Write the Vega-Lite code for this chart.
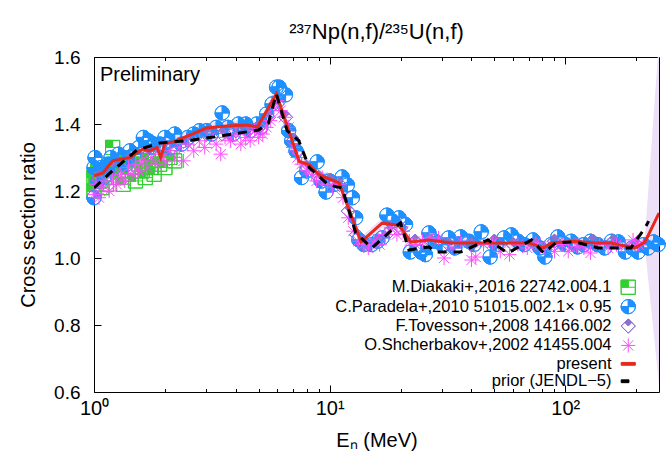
{
  "$schema": "https://vega.github.io/schema/vega-lite/v6.json",
  "width": 565,
  "height": 335,
  "autosize": {"type": "none"},
  "padding": {"left": 94, "top": 57, "right": 9, "bottom": 65},
  "background": "white",
  "title": {"text": "²³⁷Np(n,f)/²³⁵U(n,f)", "fontSize": 22, "font": "Liberation Sans", "fontWeight": "normal", "anchor": "middle", "baseline": "alphabetic", "offset": -13, "color": "black"},
  "datasets": {
    "band": [
      {"E": 1.0, "lo": 1.23, "hi": 1.26}, {"E": 1.09, "lo": 1.239, "hi": 1.269}, {"E": 1.2, "lo": 1.275, "hi": 1.305},
      {"E": 1.42, "lo": 1.285, "hi": 1.315}, {"E": 1.61, "lo": 1.31, "hi": 1.34}, {"E": 1.72, "lo": 1.305, "hi": 1.335},
      {"E": 1.85, "lo": 1.315, "hi": 1.345}, {"E": 1.92, "lo": 1.285, "hi": 1.315}, {"E": 2.0, "lo": 1.328, "hi": 1.358},
      {"E": 2.16, "lo": 1.331, "hi": 1.361}, {"E": 2.55, "lo": 1.352, "hi": 1.382}, {"E": 3.0, "lo": 1.373, "hi": 1.403},
      {"E": 3.65, "lo": 1.379, "hi": 1.409}, {"E": 4.43, "lo": 1.382, "hi": 1.412}, {"E": 4.94, "lo": 1.376, "hi": 1.406},
      {"E": 5.94, "lo": 1.475, "hi": 1.505}, {"E": 7.43, "lo": 1.273, "hi": 1.303}, {"E": 8.2, "lo": 1.263, "hi": 1.293},
      {"E": 9.03, "lo": 1.233, "hi": 1.263}, {"E": 10.97, "lo": 1.209, "hi": 1.239}, {"E": 13.6, "lo": 1.033, "hi": 1.063},
      {"E": 16.7, "lo": 1.089, "hi": 1.119}, {"E": 19.7, "lo": 1.083, "hi": 1.113}, {"E": 22.1, "lo": 1.033, "hi": 1.063},
      {"E": 26.4, "lo": 1.039, "hi": 1.069}, {"E": 33, "lo": 1.03, "hi": 1.06}, {"E": 46, "lo": 1.03, "hi": 1.06},
      {"E": 70, "lo": 1.03, "hi": 1.06}, {"E": 81, "lo": 1.015, "hi": 1.045}, {"E": 87, "lo": 1.03, "hi": 1.06},
      {"E": 110, "lo": 1.035, "hi": 1.065}, {"E": 134, "lo": 1.03, "hi": 1.06}, {"E": 156, "lo": 1.03, "hi": 1.06},
      {"E": 198, "lo": 1.015, "hi": 1.045}, {"E": 218, "lo": 1.03, "hi": 1.066}, {"E": 250, "lo": 0.62, "hi": 1.65}
    ],
    "present": [
      {"E": 1.0, "r": 1.245}, {"E": 1.09, "r": 1.254}, {"E": 1.2, "r": 1.29}, {"E": 1.42, "r": 1.3}, {"E": 1.61, "r": 1.325},
      {"E": 1.72, "r": 1.32}, {"E": 1.85, "r": 1.33}, {"E": 1.92, "r": 1.3}, {"E": 2.0, "r": 1.343}, {"E": 2.16, "r": 1.346},
      {"E": 2.55, "r": 1.367}, {"E": 3.0, "r": 1.388}, {"E": 3.65, "r": 1.394}, {"E": 4.43, "r": 1.397}, {"E": 4.94, "r": 1.391},
      {"E": 5.94, "r": 1.49}, {"E": 7.43, "r": 1.288}, {"E": 8.2, "r": 1.278}, {"E": 9.03, "r": 1.248}, {"E": 10.97, "r": 1.224},
      {"E": 13.6, "r": 1.048}, {"E": 16.7, "r": 1.104}, {"E": 19.7, "r": 1.098}, {"E": 22.1, "r": 1.048}, {"E": 26.4, "r": 1.054},
      {"E": 33, "r": 1.045}, {"E": 46, "r": 1.045}, {"E": 70, "r": 1.045}, {"E": 81, "r": 1.03}, {"E": 87, "r": 1.045},
      {"E": 110, "r": 1.05}, {"E": 134, "r": 1.045}, {"E": 156, "r": 1.045}, {"E": 198, "r": 1.03}, {"E": 218, "r": 1.048},
      {"E": 250, "r": 1.134}
    ],
    "prior": [
      {"E": 1.0, "r": 1.209}, {"E": 1.17, "r": 1.254}, {"E": 1.52, "r": 1.322}, {"E": 1.9, "r": 1.343}, {"E": 2.62, "r": 1.352},
      {"E": 3.65, "r": 1.367}, {"E": 5.0, "r": 1.382}, {"E": 5.5, "r": 1.403}, {"E": 5.94, "r": 1.49}, {"E": 6.6, "r": 1.38},
      {"E": 7.4, "r": 1.35}, {"E": 8.2, "r": 1.27}, {"E": 9.9, "r": 1.218}, {"E": 11.3, "r": 1.209}, {"E": 12.9, "r": 1.075},
      {"E": 15.1, "r": 1.03}, {"E": 17.8, "r": 1.075}, {"E": 20, "r": 1.105}, {"E": 21.7, "r": 1.024}, {"E": 26.4, "r": 1.033},
      {"E": 28, "r": 1.018}, {"E": 36, "r": 1.018}, {"E": 47, "r": 1.054}, {"E": 57, "r": 1.015}, {"E": 72, "r": 1.054},
      {"E": 81, "r": 1.015}, {"E": 91, "r": 1.045}, {"E": 110, "r": 1.048}, {"E": 138, "r": 1.03}, {"E": 190, "r": 1.03},
      {"E": 218, "r": 1.09}, {"E": 226, "r": 1.11}
    ],
    "exp": [
      {"s": "a", "E": 1.0, "r": 1.2}, {"s": "a", "E": 1.0, "r": 1.24}, {"s": "a", "E": 1.02, "r": 1.22}, {"s": "a", "E": 1.04, "r": 1.26},
      {"s": "a", "E": 1.06, "r": 1.23}, {"s": "a", "E": 1.08, "r": 1.21}, {"s": "a", "E": 1.1, "r": 1.25}, {"s": "a", "E": 1.13, "r": 1.22},
      {"s": "a", "E": 1.17, "r": 1.27}, {"s": "a", "E": 1.2, "r": 1.33}, {"s": "a", "E": 1.23, "r": 1.28}, {"s": "a", "E": 1.27, "r": 1.24},
      {"s": "a", "E": 1.3, "r": 1.26}, {"s": "a", "E": 1.33, "r": 1.22}, {"s": "a", "E": 1.37, "r": 1.29}, {"s": "a", "E": 1.4, "r": 1.25},
      {"s": "a", "E": 1.45, "r": 1.27}, {"s": "a", "E": 1.5, "r": 1.23}, {"s": "a", "E": 1.55, "r": 1.28}, {"s": "a", "E": 1.6, "r": 1.26},
      {"s": "a", "E": 1.65, "r": 1.24}, {"s": "a", "E": 1.7, "r": 1.29}, {"s": "a", "E": 1.75, "r": 1.27}, {"s": "a", "E": 1.8, "r": 1.25},
      {"s": "a", "E": 1.9, "r": 1.28}, {"s": "a", "E": 2.0, "r": 1.27}, {"s": "a", "E": 2.1, "r": 1.3}, {"s": "a", "E": 2.2, "r": 1.29},

      {"s": "b", "E": 1.0, "r": 1.18}, {"s": "b", "E": 1.0, "r": 1.27}, {"s": "b", "E": 1.01, "r": 1.3}, {"s": "b", "E": 1.04, "r": 1.23},
      {"s": "b", "E": 1.07, "r": 1.27}, {"s": "b", "E": 1.1, "r": 1.24}, {"s": "b", "E": 1.14, "r": 1.28}, {"s": "b", "E": 1.18, "r": 1.3},
      {"s": "b", "E": 1.22, "r": 1.27}, {"s": "b", "E": 1.27, "r": 1.31}, {"s": "b", "E": 1.32, "r": 1.3}, {"s": "b", "E": 1.37, "r": 1.28},
      {"s": "b", "E": 1.42, "r": 1.32}, {"s": "b", "E": 1.48, "r": 1.31}, {"s": "b", "E": 1.55, "r": 1.33}, {"s": "b", "E": 1.62, "r": 1.36},
      {"s": "b", "E": 1.7, "r": 1.35}, {"s": "b", "E": 1.75, "r": 1.33}, {"s": "b", "E": 1.8, "r": 1.34}, {"s": "b", "E": 1.9, "r": 1.34},
      {"s": "b", "E": 2.0, "r": 1.36}, {"s": "b", "E": 2.1, "r": 1.33}, {"s": "b", "E": 2.2, "r": 1.37}, {"s": "b", "E": 2.35, "r": 1.34},
      {"s": "b", "E": 2.5, "r": 1.36}, {"s": "b", "E": 2.65, "r": 1.37}, {"s": "b", "E": 2.8, "r": 1.38}, {"s": "b", "E": 3.0, "r": 1.38},
      {"s": "b", "E": 3.15, "r": 1.37}, {"s": "b", "E": 3.3, "r": 1.39}, {"s": "b", "E": 3.5, "r": 1.433}, {"s": "b", "E": 3.7, "r": 1.39},
      {"s": "b", "E": 3.9, "r": 1.37}, {"s": "b", "E": 4.1, "r": 1.4}, {"s": "b", "E": 4.4, "r": 1.4}, {"s": "b", "E": 4.6, "r": 1.38},
      {"s": "b", "E": 4.9, "r": 1.4}, {"s": "b", "E": 5.1, "r": 1.39}, {"s": "b", "E": 5.4, "r": 1.43}, {"s": "b", "E": 5.7, "r": 1.46},
      {"s": "b", "E": 5.95, "r": 1.51}, {"s": "b", "E": 6.1, "r": 1.51}, {"s": "b", "E": 6.5, "r": 1.487}, {"s": "b", "E": 6.7, "r": 1.38},
      {"s": "b", "E": 6.9, "r": 1.35}, {"s": "b", "E": 7.2, "r": 1.32}, {"s": "b", "E": 7.6, "r": 1.24}, {"s": "b", "E": 8.0, "r": 1.26},
      {"s": "b", "E": 8.85, "r": 1.287}, {"s": "b", "E": 9.2, "r": 1.23}, {"s": "b", "E": 9.66, "r": 1.197}, {"s": "b", "E": 10.0, "r": 1.23},
      {"s": "b", "E": 10.5, "r": 1.22}, {"s": "b", "E": 11.3, "r": 1.242}, {"s": "b", "E": 11.9, "r": 1.218}, {"s": "b", "E": 12.5, "r": 1.18},
      {"s": "b", "E": 12.9, "r": 1.12}, {"s": "b", "E": 13.3, "r": 1.054}, {"s": "b", "E": 14.0, "r": 1.04}, {"s": "b", "E": 15.1, "r": 1.04},
      {"s": "b", "E": 16.0, "r": 1.05}, {"s": "b", "E": 16.7, "r": 1.06}, {"s": "b", "E": 17.5, "r": 1.128}, {"s": "b", "E": 18.5, "r": 1.11},
      {"s": "b", "E": 19.7, "r": 1.12}, {"s": "b", "E": 21.0, "r": 1.1}, {"s": "b", "E": 22.0, "r": 1.018}, {"s": "b", "E": 24.4, "r": 1.018},
      {"s": "b", "E": 25.5, "r": 1.01}, {"s": "b", "E": 26.4, "r": 1.075}, {"s": "b", "E": 28, "r": 1.05}, {"s": "b", "E": 30, "r": 1.04},
      {"s": "b", "E": 32, "r": 1.06}, {"s": "b", "E": 34, "r": 1.03}, {"s": "b", "E": 36, "r": 1.063}, {"s": "b", "E": 39, "r": 1.05},
      {"s": "b", "E": 41, "r": 1.04}, {"s": "b", "E": 44, "r": 1.078}, {"s": "b", "E": 48, "r": 1.003}, {"s": "b", "E": 51, "r": 1.04},
      {"s": "b", "E": 55, "r": 1.06}, {"s": "b", "E": 59, "r": 1.069}, {"s": "b", "E": 63, "r": 1.05}, {"s": "b", "E": 67, "r": 1.04},
      {"s": "b", "E": 73, "r": 1.054}, {"s": "b", "E": 78, "r": 1.03}, {"s": "b", "E": 82, "r": 1.003}, {"s": "b", "E": 87, "r": 1.04},
      {"s": "b", "E": 93, "r": 1.063}, {"s": "b", "E": 100, "r": 1.04}, {"s": "b", "E": 106, "r": 1.05}, {"s": "b", "E": 113, "r": 1.033},
      {"s": "b", "E": 120, "r": 1.04}, {"s": "b", "E": 128, "r": 1.05}, {"s": "b", "E": 137, "r": 1.04}, {"s": "b", "E": 147, "r": 1.03},
      {"s": "b", "E": 157, "r": 1.05}, {"s": "b", "E": 168, "r": 1.048}, {"s": "b", "E": 180, "r": 1.018}, {"s": "b", "E": 192, "r": 1.03},
      {"s": "b", "E": 204, "r": 1.018}, {"s": "b", "E": 215, "r": 1.04}, {"s": "b", "E": 225, "r": 1.03}, {"s": "b", "E": 237, "r": 1.048},
      {"s": "b", "E": 248, "r": 1.04},

      {"s": "c", "E": 1.05, "r": 1.24}, {"s": "c", "E": 1.2, "r": 1.27}, {"s": "c", "E": 1.4, "r": 1.29}, {"s": "c", "E": 1.7, "r": 1.31},
      {"s": "c", "E": 2.0, "r": 1.33}, {"s": "c", "E": 2.5, "r": 1.35}, {"s": "c", "E": 3.0, "r": 1.37}, {"s": "c", "E": 3.5, "r": 1.37},
      {"s": "c", "E": 4.0, "r": 1.38}, {"s": "c", "E": 4.5, "r": 1.38}, {"s": "c", "E": 5.0, "r": 1.39}, {"s": "c", "E": 5.5, "r": 1.42},
      {"s": "c", "E": 6.0, "r": 1.46}, {"s": "c", "E": 6.5, "r": 1.42}, {"s": "c", "E": 7.0, "r": 1.35}, {"s": "c", "E": 8.0, "r": 1.27},
      {"s": "c", "E": 9.0, "r": 1.24}, {"s": "c", "E": 10, "r": 1.23}, {"s": "c", "E": 11, "r": 1.22}, {"s": "c", "E": 12, "r": 1.14},
      {"s": "c", "E": 13, "r": 1.07}, {"s": "c", "E": 14, "r": 1.04}, {"s": "c", "E": 16, "r": 1.05}, {"s": "c", "E": 18, "r": 1.08},
      {"s": "c", "E": 20, "r": 1.09}, {"s": "c", "E": 23, "r": 1.05}, {"s": "c", "E": 27, "r": 1.05}, {"s": "c", "E": 32, "r": 1.04},
      {"s": "c", "E": 40, "r": 1.04}, {"s": "c", "E": 50, "r": 1.05}, {"s": "c", "E": 60, "r": 1.04}, {"s": "c", "E": 75, "r": 1.04},
      {"s": "c", "E": 90, "r": 1.05}, {"s": "c", "E": 110, "r": 1.04}, {"s": "c", "E": 130, "r": 1.05}, {"s": "c", "E": 160, "r": 1.05},
      {"s": "c", "E": 200, "r": 1.04},

      {"s": "d", "E": 1.0, "r": 1.19}, {"s": "d", "E": 1.02, "r": 1.22}, {"s": "d", "E": 1.05, "r": 1.18}, {"s": "d", "E": 1.08, "r": 1.21},
      {"s": "d", "E": 1.12, "r": 1.23}, {"s": "d", "E": 1.16, "r": 1.2}, {"s": "d", "E": 1.2, "r": 1.24}, {"s": "d", "E": 1.25, "r": 1.22},
      {"s": "d", "E": 1.3, "r": 1.25}, {"s": "d", "E": 1.35, "r": 1.23}, {"s": "d", "E": 1.4, "r": 1.27}, {"s": "d", "E": 1.45, "r": 1.25},
      {"s": "d", "E": 1.5, "r": 1.28}, {"s": "d", "E": 1.55, "r": 1.26}, {"s": "d", "E": 1.6, "r": 1.29}, {"s": "d", "E": 1.68, "r": 1.27},
      {"s": "d", "E": 1.75, "r": 1.3}, {"s": "d", "E": 1.83, "r": 1.28}, {"s": "d", "E": 1.9, "r": 1.31}, {"s": "d", "E": 2.0, "r": 1.29},
      {"s": "d", "E": 2.1, "r": 1.32}, {"s": "d", "E": 2.2, "r": 1.3}, {"s": "d", "E": 2.3, "r": 1.33}, {"s": "d", "E": 2.4, "r": 1.29},
      {"s": "d", "E": 2.5, "r": 1.34}, {"s": "d", "E": 2.65, "r": 1.32}, {"s": "d", "E": 2.8, "r": 1.35}, {"s": "d", "E": 2.95, "r": 1.33},
      {"s": "d", "E": 3.1, "r": 1.36}, {"s": "d", "E": 3.3, "r": 1.34}, {"s": "d", "E": 3.45, "r": 1.31}, {"s": "d", "E": 3.6, "r": 1.36},
      {"s": "d", "E": 3.8, "r": 1.35}, {"s": "d", "E": 4.0, "r": 1.37}, {"s": "d", "E": 4.2, "r": 1.34}, {"s": "d", "E": 4.4, "r": 1.36},
      {"s": "d", "E": 4.6, "r": 1.35}, {"s": "d", "E": 4.8, "r": 1.38}, {"s": "d", "E": 5.0, "r": 1.36}, {"s": "d", "E": 5.2, "r": 1.37},
      {"s": "d", "E": 5.4, "r": 1.39}, {"s": "d", "E": 5.6, "r": 1.41}, {"s": "d", "E": 5.8, "r": 1.45}, {"s": "d", "E": 6.0, "r": 1.47},
      {"s": "d", "E": 6.2, "r": 1.44}, {"s": "d", "E": 6.4, "r": 1.42}, {"s": "d", "E": 6.7, "r": 1.39}, {"s": "d", "E": 7.0, "r": 1.33},
      {"s": "d", "E": 7.3, "r": 1.3}, {"s": "d", "E": 7.6, "r": 1.28}, {"s": "d", "E": 8.0, "r": 1.26}, {"s": "d", "E": 8.4, "r": 1.25},
      {"s": "d", "E": 8.8, "r": 1.23}, {"s": "d", "E": 9.3, "r": 1.24}, {"s": "d", "E": 9.8, "r": 1.22}, {"s": "d", "E": 10.3, "r": 1.21},
      {"s": "d", "E": 10.8, "r": 1.22}, {"s": "d", "E": 11.4, "r": 1.18}, {"s": "d", "E": 12.0, "r": 1.12}, {"s": "d", "E": 12.6, "r": 1.08},
      {"s": "d", "E": 13.2, "r": 1.05}, {"s": "d", "E": 13.9, "r": 1.04}, {"s": "d", "E": 14.6, "r": 1.03}, {"s": "d", "E": 15.4, "r": 1.05},
      {"s": "d", "E": 16.3, "r": 1.04}, {"s": "d", "E": 17.2, "r": 1.07}, {"s": "d", "E": 18.2, "r": 1.09}, {"s": "d", "E": 19.3, "r": 1.07},
      {"s": "d", "E": 20.5, "r": 1.08}, {"s": "d", "E": 21.8, "r": 1.05}, {"s": "d", "E": 23.2, "r": 1.04}, {"s": "d", "E": 24.8, "r": 1.05},
      {"s": "d", "E": 26.5, "r": 1.06}, {"s": "d", "E": 29, "r": 1.06}, {"s": "d", "E": 30.6, "r": 1.0}, {"s": "d", "E": 33, "r": 1.03},
      {"s": "d", "E": 36, "r": 1.05}, {"s": "d", "E": 40, "r": 0.994}, {"s": "d", "E": 41.7, "r": 1.003}, {"s": "d", "E": 45, "r": 1.04},
      {"s": "d", "E": 49, "r": 1.045}, {"s": "d", "E": 53, "r": 1.02}, {"s": "d", "E": 58, "r": 1.01}, {"s": "d", "E": 63, "r": 1.04},
      {"s": "d", "E": 69, "r": 1.03}, {"s": "d", "E": 75, "r": 1.045}, {"s": "d", "E": 82, "r": 1.03}, {"s": "d", "E": 90, "r": 1.02},
      {"s": "d", "E": 97, "r": 1.04}, {"s": "d", "E": 103, "r": 1.02}, {"s": "d", "E": 112, "r": 1.035}, {"s": "d", "E": 120, "r": 1.03},
      {"s": "d", "E": 128, "r": 1.015}, {"s": "d", "E": 140, "r": 1.04}, {"s": "d", "E": 152, "r": 1.03}, {"s": "d", "E": 165, "r": 1.04},
      {"s": "d", "E": 180, "r": 1.035}, {"s": "d", "E": 194, "r": 1.054}, {"s": "d", "E": 205, "r": 1.04}
    ]
  },
  "layer": [
    {
      "data": {"name": "band"},
      "mark": {"type": "area", "color": "#ecdff7", "clip": true},
      "encoding": {
        "x": {
          "field": "E", "type": "quantitative",
          "scale": {"type": "log", "domain": [1, 250], "nice": false},
          "axis": {
            "orient": "bottom", "title": "Eₙ (MeV)",
            "values": [1, 2, 3, 4, 5, 6, 7, 8, 9, 10, 20, 30, 40, 50, 60, 70, 80, 90, 100, 200],
            "labelExpr": "datum.value == 1 ? '10⁰' : datum.value == 10 ? '10¹' : datum.value == 100 ? '10²' : ''",
            "labelOverlap": false, "labelFlush": false, "labelFontSize": 20,
            "tickSize": {"condition": {"test": "datum.value == 1 || datum.value == 10 || datum.value == 100", "value": -7}, "value": -3.5},
            "labelPadding": 13, "titlePadding": 9
          }
        },
        "y": {
          "field": "lo", "type": "quantitative",
          "scale": {"domain": [0.6, 1.6], "nice": false, "zero": false},
          "axis": {
            "title": "Cross section ratio", "values": [0.6, 0.8, 1.0, 1.2, 1.4, 1.6], "format": ".1f",
            "tickSize": -7, "labelPadding": 21, "titlePadding": 15
          }
        },
        "y2": {"field": "hi"}
      }
    },
    {
      "data": {"name": "exp"},
      "mark": {"type": "point", "size": 200, "strokeWidth": 1, "opacity": 1},
      "encoding": {
        "x": {
          "field": "E", "type": "quantitative",
          "axis": {
            "orient": "top", "title": null, "labels": false,
            "values": [1, 2, 3, 4, 5, 6, 7, 8, 9, 10, 20, 30, 40, 50, 60, 70, 80, 90, 100, 200],
            "tickSize": {"condition": {"test": "datum.value == 1 || datum.value == 10 || datum.value == 100", "value": -7}, "value": -3.5}
          }
        },
        "y": {"field": "r", "type": "quantitative"},
        "shape": {
          "field": "s", "type": "nominal",
          "scale": {
            "domain": ["a", "b", "c", "d", "e", "f"],
            "range": [
              "M-1,-1H1V1H-1Z M-1,-1V1H1V-1Z M-1,-1H0V0H-1Z M-1,0H1 M0,-1V0",
              "M-1,0A1,1,0,1,1,1,0A1,1,0,1,1,-1,0Z M-1,0A1,1,0,1,0,1,0A1,1,0,1,0,-1,0Z M0,0L1,0A1,1,0,0,0,0,-1Z M0,0L-1,0A1,1,0,0,0,0,1Z M-1,0H1 M0,-1V1",
              "M0,-1L1,0L0,1L-1,0Z M0,-1L-1,0L0,1L1,0Z M0,-1L0.5,-0.5L0,0L-0.5,-0.5Z",
              "M-1,0H1M0,-1V1M-0.72,-0.72L0.72,0.72M-0.72,0.72L0.72,-0.72",
              "M-1,-0.2H1V0.2H-1Z",
              "M-1,-0.2H0.1V0.2H-1Z"
            ]
          },
          "legend": {
            "title": null, "orient": "none", "legendX": 526, "legendY": 222,
            "labelExpr": "datum.label == 'a' ? 'M.Diakaki+,2016 22742.004.1' : datum.label == 'b' ? 'C.Paradela+,2010 51015.002.1× 0.95' : datum.label == 'c' ? 'F.Tovesson+,2008 14166.002' : datum.label == 'd' ? 'O.Shcherbakov+,2002 41455.004' : datum.label == 'e' ? 'present' : 'prior (JENDL−5)'",
            "labelAlign": "right", "labelOffset": -25, "labelFontSize": 16.5, "labelFont": "Liberation Sans", "labelColor": "black",
            "labelLimit": 0, "symbolSize": 200, "rowPadding": 0.4, "symbolStrokeWidth": 1
          }
        },
        "stroke": {
          "field": "s", "type": "nominal",
          "scale": {"domain": ["a", "b", "c", "d", "e", "f"], "range": ["#30d030", "#1e90ff", "#8a70d0", "#ff4cff", "#e8281e", "#000000"]}
        },
        "fill": {
          "field": "s", "type": "nominal",
          "scale": {"domain": ["a", "b", "c", "d", "e", "f"], "range": ["#30d030", "#1e90ff", "#8a70d0", "#ff4cff", "#e8281e", "#000000"]}
        }
      }
    },
    {
      "data": {"name": "present"},
      "mark": {"type": "line", "color": "#e8281e", "strokeWidth": 3, "clip": true},
      "encoding": {
        "x": {"field": "E", "type": "quantitative", "axis": null},
        "y": {"field": "r", "type": "quantitative"}
      }
    },
    {
      "data": {"name": "prior"},
      "mark": {"type": "line", "color": "#000000", "strokeWidth": 3, "strokeDash": [9, 7], "clip": true},
      "encoding": {
        "x": {"field": "E", "type": "quantitative", "axis": null},
        "y": {"field": "r", "type": "quantitative"}
      }
    },
    {
      "data": {"values": [{}]},
      "mark": {"type": "text", "text": "Preliminary", "align": "left", "baseline": "alphabetic", "fontSize": 20, "font": "Liberation Sans", "color": "black"},
      "encoding": {
        "x": {"datum": 1.06, "type": "quantitative", "axis": null},
        "y": {"datum": 1.528, "type": "quantitative"}
      }
    }
  ],
  "resolve": {"axis": {"x": "independent"}},
  "config": {
    "font": "Liberation Sans",
    "view": {"stroke": "black", "strokeWidth": 1},
    "axis": {
      "domain": false, "grid": false, "ticks": true, "tickColor": "black", "tickWidth": 1,
      "labelColor": "black", "titleColor": "black", "labelFontSize": 19, "titleFontSize": 20,
      "titleFontWeight": "normal", "labelFont": "Liberation Sans", "titleFont": "Liberation Sans"
    }
  }
}
